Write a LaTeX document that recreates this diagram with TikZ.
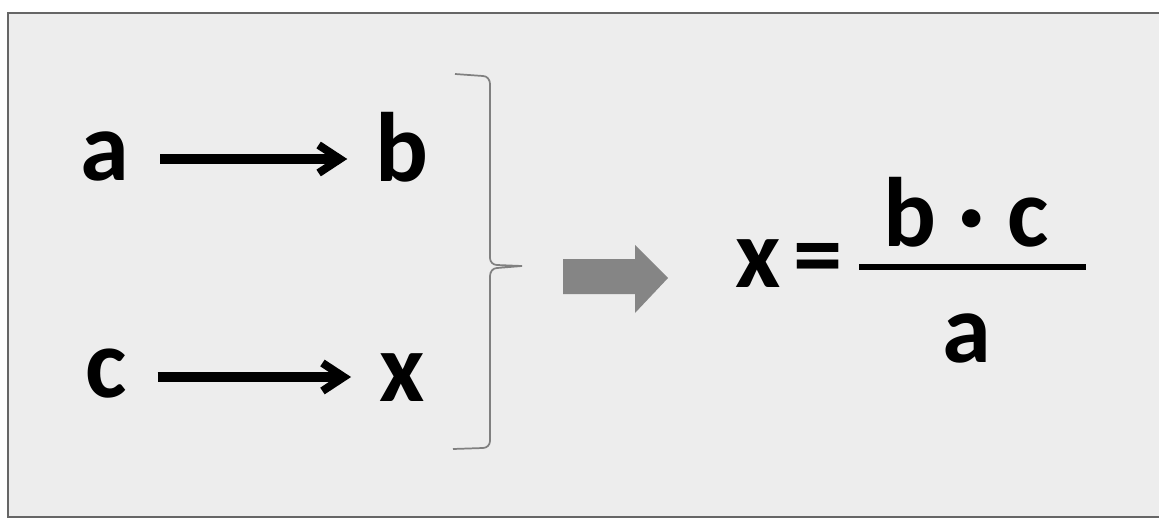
\documentclass[tikz,border=0pt]{standalone}
\usepackage{fontspec}
\setmainfont{Carlito}
\usetikzlibrary{arrows.meta}
\begin{document}
\begin{tikzpicture}[x=0.75pt,y=-0.75pt,
  lbl/.style={font=\fontsize{74}{80}\selectfont\bfseries, inner sep=0pt, anchor=base},
  conn/.style={line width=8pt, shorten <=23pt, shorten >=21pt,
    -{Straight Barb[length=16pt,width=21pt,line width=6pt]}},
  frame/.style={line width=2.2pt, draw=black!60},
  bracestyle/.style={line width=1.3pt, draw=black!50},
  blockarrow/.style={fill=black!48},
  barline/.style={line width=4.5pt}]
\useasboundingbox (0,0) rectangle (1159,527);
% background and frame
\fill[black!7] (8,13) rectangle (1159,517);
\draw[frame] (1159,13) -- (8,13) -- (8,517) -- (1159,517);
% letters
\node[lbl] (a) at (105,181) {a};
\node[lbl] (b) at (402,182) {b};
\node[lbl] (c) at (106,397) {c};
\node[lbl] (x) at (402,401) {x};
% arrows
\draw[conn] ([yshift=16.5pt]a.base east) -- ([yshift=16.5pt]a.base east -| b.west);
\draw[conn] ([yshift=15pt]c.base east) -- ([yshift=15pt]c.base east -| x.west);
% brace
\draw[bracestyle] (455,74) -- (483,76) to[out=0,in=90] (490,84) -- (490,258)
  to[out=-90,in=180] (497,265) -- (522,266) -- (497,268)
  to[out=180,in=90] (490,276) -- (490,441) to[out=-90,in=0] (483,448) -- (453,449);
% block arrow
\fill[blockarrow] (563,259) -- (635,259) -- (635,245) -- (668,278) -- (635,313)
  -- (635,294) -- (563,294) -- cycle;
% formula
\node[lbl] (xr) at (758,287) {x};
\node[lbl] (eq) at (818,287) {=};
\node[lbl] (num) at (966,247) {b · c};
\coordinate (barL) at (859,267);
\coordinate (barR) at (1086,267);
\draw[barline] (barL) -- (barR);
\node[lbl] (den) at (967,362) {a};
\end{tikzpicture}
\end{document}
